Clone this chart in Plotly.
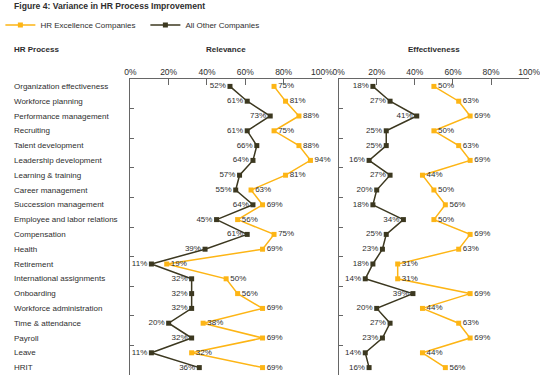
import plotly.graph_objects as go

categories = [
    "Organization effectiveness", "Workforce planning", "Performance management",
    "Recruiting", "Talent development", "Leadership development",
    "Learning & training", "Career management", "Succession management",
    "Employee and labor relations", "Compensation", "Health", "Retirement",
    "International assignments", "Onboarding", "Workforce administration",
    "Time & attendance", "Payroll", "Leave", "HRIT",
]

relevance_hr_excellence = [75, 81, 88, 75, 88, 94, 81, 63, 69, 56, 75, 69, 19, 50, 56, 69, 38, 69, 32, 69]
relevance_all_other = [52, 61, 73, 61, 66, 64, 57, 55, 64, 45, 61, 39, 11, 32, 32, 32, 20, 32, 11, 36]
effectiveness_hr_excellence = [50, 63, 69, 50, 63, 69, 44, 50, 56, 50, 69, 63, 31, 31, 69, 44, 63, 69, 44, 56]
effectiveness_all_other = [18, 27, 41, 25, 25, 16, 27, 20, 18, 34, 25, 23, 18, 14, 39, 20, 27, 23, 14, 16]

tick_values = [0, 20, 40, 60, 80, 100]
tick_labels = ["0%", "20%", "40%", "60%", "80%", "100%"]

ORANGE = "#FDB515"
DARK = "#3C3820"
TEXT = "#2E2E2E"
AXIS = "#666666"
FONT = "Liberation Sans, Arial, sans-serif"

W, H = 540, 375
TOP = 79

fig = go.Figure()

def add_series(x, name, color, xa, ya, pos, show):
    fig.add_trace(go.Scatter(
        x=x, y=categories, name=name, mode="lines+markers+text",
        line=dict(color=color, width=1.5),
        marker=dict(symbol="square", size=5, color=color),
        text=[f"{v}%" for v in x], textposition=pos,
        textfont=dict(size=8, color=TEXT, family=FONT),
        xaxis=xa, yaxis=ya, showlegend=show, cliponaxis=False,
    ))

add_series(relevance_hr_excellence, "HR Excellence Companies", ORANGE, "x", "y", "middle right", True)
add_series(relevance_all_other, "All Other Companies", DARK, "x", "y", "middle left", True)
add_series(effectiveness_hr_excellence, "HR Excellence Companies", ORANGE, "x2", "y2", "middle right", False)
add_series(effectiveness_all_other, "All Other Companies", DARK, "x2", "y2", "middle left", False)

xcommon = dict(range=[0, 100], side="top", tickvals=tick_values, ticktext=tick_labels,
               ticks="inside", ticklen=6, tickcolor=AXIS, showline=True, linecolor=AXIS,
               linewidth=1, showgrid=False, zeroline=False, automargin=False,
               ticklabeloverflow="allow",
               tickfont=dict(size=8.5, color=TEXT, family=FONT), fixedrange=True)
ycommon = dict(type="category", categoryorder="array", categoryarray=categories,
               range=[len(categories) - 0.5, -0.5], showticklabels=False,
               ticks="inside", ticklen=4, tickcolor=AXIS, tickson="boundaries",
               showline=True, linecolor=AXIS, linewidth=1, showgrid=False,
               zeroline=False, automargin=False, fixedrange=True)

fig.update_layout(
    width=W, height=H,
    margin=dict(l=0, r=0, t=TOP, b=0, pad=0),
    paper_bgcolor="white", plot_bgcolor="white",
    font=dict(family=FONT, size=8.5, color=TEXT),
    xaxis=dict(domain=[121 / W, 317 / W], anchor="y", **xcommon),
    xaxis2=dict(domain=[334 / W, 529 / W], anchor="y2", **xcommon),
    yaxis=dict(domain=[0, 1], anchor="x", **ycommon),
    yaxis2=dict(domain=[0, 1], anchor="x2", **ycommon),
    legend=dict(orientation="h", x=-0.022, xanchor="left", y=(H - 25) / (H - TOP),
                yanchor="middle", font=dict(size=8, color=TEXT, family=FONT),
                bgcolor="rgba(0,0,0,0)", entrywidth=100, tracegroupgap=0),
)

def ypaper(px):
    return (H - px) / (H - TOP)

annotations = [
    dict(text="<b>Figure 4: Variance in HR Process Improvement</b>", xref="paper", yref="paper",
         x=0, y=ypaper(6), xanchor="left", yanchor="middle", showarrow=False,
         font=dict(size=8.6, color=TEXT, family=FONT)),
    dict(text="<b>HR Process</b>", xref="paper", yref="paper", x=0, y=ypaper(49),
         xanchor="left", yanchor="middle", showarrow=False,
         font=dict(size=8, color=TEXT, family=FONT)),
    dict(text="<b>Relevance</b>", xref="x domain", yref="paper", x=0.5, y=ypaper(49),
         xanchor="center", yanchor="middle", showarrow=False,
         font=dict(size=8, color=TEXT, family=FONT)),
    dict(text="<b>Effectiveness</b>", xref="x2 domain", yref="paper", x=0.5, y=ypaper(49),
         xanchor="center", yanchor="middle", showarrow=False,
         font=dict(size=8, color=TEXT, family=FONT)),
]
for c in categories:
    annotations.append(dict(text=c, xref="paper", yref="y", x=0, y=c,
                            xanchor="left", yanchor="middle", showarrow=False,
                            font=dict(size=8, color=TEXT, family=FONT)))
fig.update_layout(annotations=annotations)

fig.write_html("out.html", config={"displayModeBar": False},
               post_script="document.body.style.margin='0';")
